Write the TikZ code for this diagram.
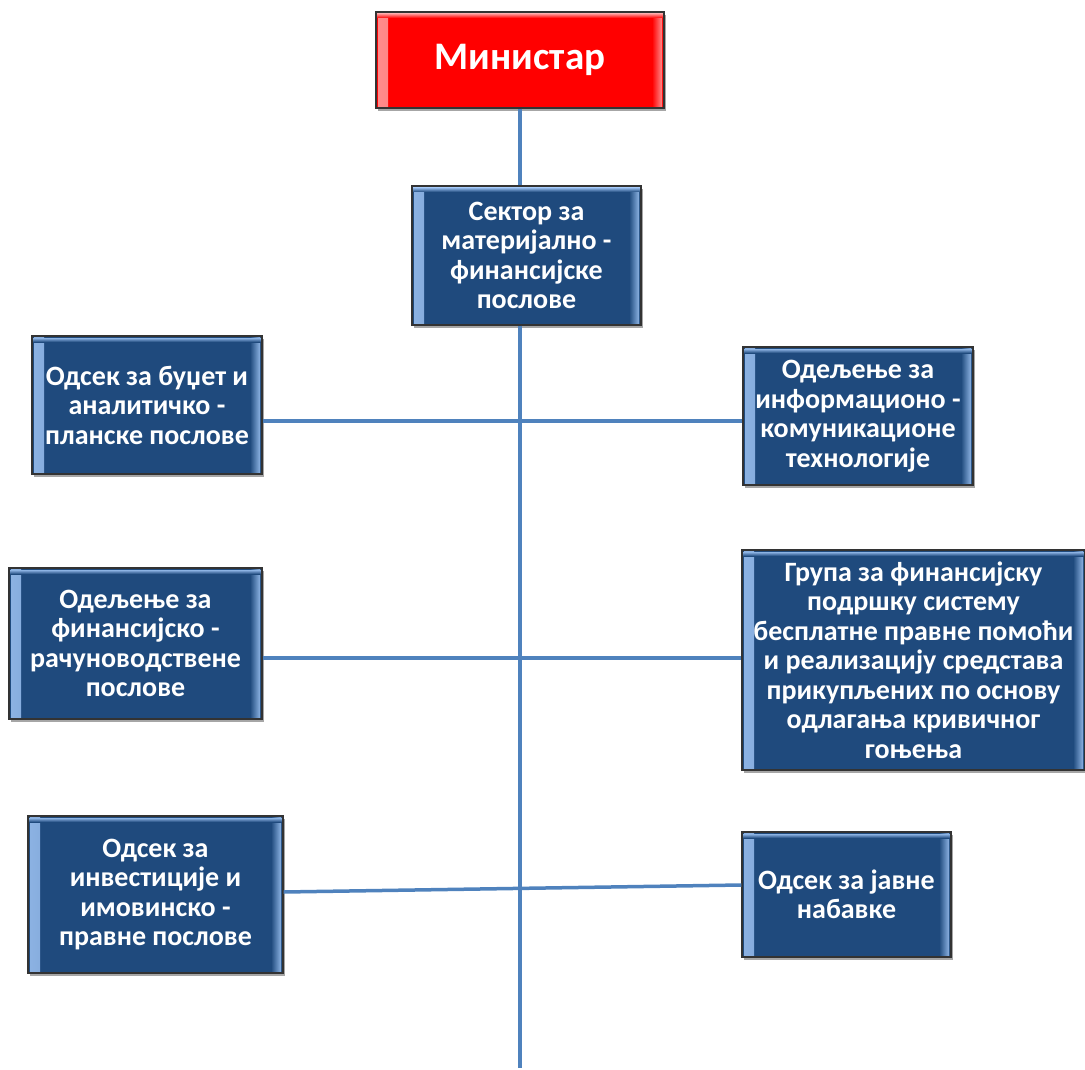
\documentclass[tikz,border=0pt]{standalone}
\usepackage{fontspec}
\setmainfont{Carlito}
\usetikzlibrary{shadows}

\definecolor{qqttcc}{rgb}{0.12, 0.29, 0.49} % fondo
\definecolor{ttzzcc}{rgb}{0.55, 0.70, 0.89} % borde claro
\definecolor{ffqqqq}{rgb}{1, 0, 0}
\definecolor{ffttcc}{rgb}{1, 0.55, 0.55}
\definecolor{wwzzcc}{rgb}{0.31, 0.51, 0.74} % lineas

\tikzset{
  unit/.style 2 args={draw=black!80, line width=1.2pt, fill=#1, text=white,
    font=\bfseries\fontsize{28}{29.5}\selectfont, align=center, inner sep=0pt,
    drop shadow={shadow xshift=2pt, shadow yshift=-3pt, opacity=0.35, fill=black},
    path picture={
      \shade[left color=#2, right color=#1] ([xshift=2pt]path picture bounding box.south west) rectangle ([xshift=12pt]path picture bounding box.north west);
      \shade[left color=#1, right color=#2] ([xshift=-12pt]path picture bounding box.south east) rectangle ([xshift=-2pt]path picture bounding box.north east);
      \shade[top color=#2, bottom color=#1] ([yshift=-6pt]path picture bounding box.north west) rectangle ([yshift=-2pt]path picture bounding box.north east);
    }},
  bluebox/.style={unit={qqttcc}{ttzzcc}},
  redbox/.style={unit={ffqqqq}{ffttcc}},
  link/.style={color=wwzzcc, line width=3.5pt}
}

\begin{document}
\begin{tikzpicture}[x=1pt, y=-1pt]
        \useasboundingbox (0,0) rectangle (1085,1070);

        \node[redbox, minimum width=288pt, minimum height=96pt, font=\bfseries\fontsize{39}{45}\selectfont] (min) at (520,60) {Министар};
        \node[bluebox, minimum width=229pt, minimum height=139pt] (sek) at (526.5,255.5) {Сектор за\\материјално -\\финансијске\\послове};

        % лево
        \node[bluebox, minimum width=230pt, minimum height=138pt] (bud) at (147,405) {Одсек за буџет и\\аналитичко -\\планске послове};
        \node[bluebox, minimum width=253pt, minimum height=151pt] (fin) at (135.5,643.5) {Одељење за\\финансијско -\\рачуноводствене\\послове};
        \node[bluebox, minimum width=255pt, minimum height=157pt] (inv) at (155.5,894.5) {Одсек за\\инвестиције и\\имовинско -\\правне послове};

        % десно
        \node[bluebox, minimum width=230pt, minimum height=138pt] (ikt) at (858,416) {Одељење за\\информационо -\\комуникационе\\технологије};
        \node[bluebox, minimum width=343pt, minimum height=220pt] (grp) at (913.5,660) {Група за финансијску\\подршку систему\\бесплатне правне помоћи\\и реализацију средстава\\прикупљених по основу\\одлагања кривичног\\гоњења};
        \node[bluebox, minimum width=209pt, minimum height=125pt] (nab) at (846.5,894.5) {Одсек за јавне\\набавке};

        \coordinate (spine) at (520,1068);
        \coordinate (r1) at (520,421);
        \coordinate (r2) at (520,658);

        \draw[link] (min.south) -- (sek.north -| min.south);
        \draw[link] (sek.south -| min.south) -- (spine); % вертикала
        \draw[link] (bud.east |- r1) -- (ikt.west |- r1);
        \draw[link] (fin.east |- r2) -- (grp.west |- r2);
        \draw[link] ([yshift=2.5pt]inv.east) -- ([yshift=9.5pt]nab.west);
\end{tikzpicture}
\end{document}
